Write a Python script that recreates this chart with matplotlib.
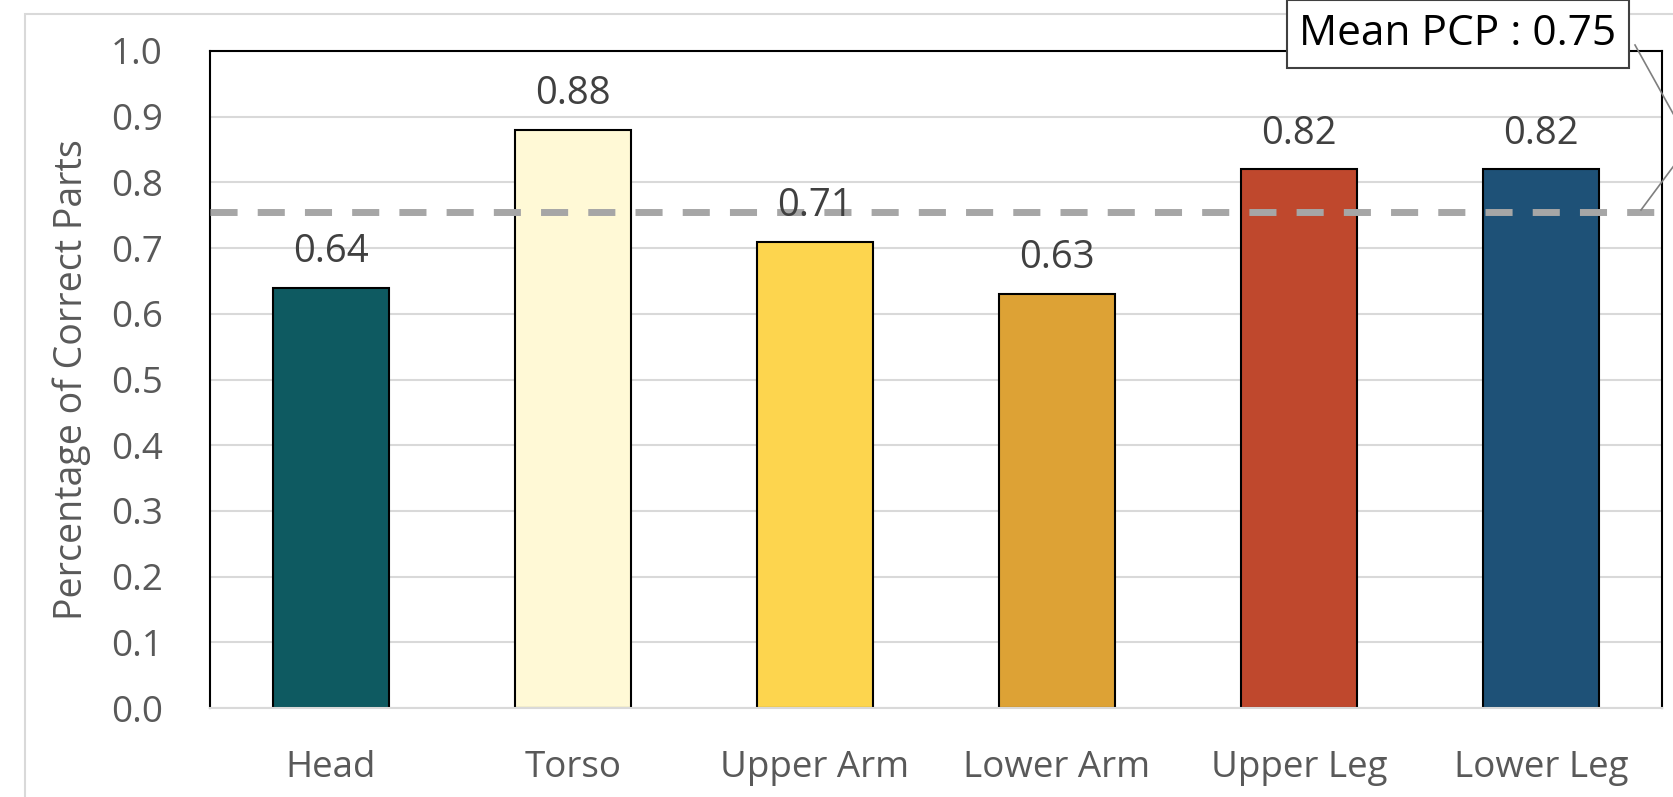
import matplotlib.pyplot as plt
from matplotlib.lines import Line2D
from matplotlib.patches import Rectangle

plt.rcParams["font.family"] = ["Open Sans", "DejaVu Sans"]

# data
parts = ["Head", "Torso", "Upper Arm", "Lower Arm", "Upper Leg", "Lower Leg"]
pcp = [0.64, 0.88, 0.71, 0.63, 0.82, 0.82]
bar_colors = ["#0E5A61", "#FFF9D6", "#FDD54E", "#DDA235", "#BF482D", "#1E5177"]
mean_pcp = 0.755
mean_label = "Mean PCP : 0.75"
yticks = [0.0, 0.1, 0.2, 0.3, 0.4, 0.5, 0.6, 0.7, 0.8, 0.9, 1.0]

W, H = 1674, 797
fig = plt.figure(figsize=(W / 100, H / 100), dpi=100)
ax = fig.add_axes([210 / W, 1 - 708 / H, (1662 - 210) / W, (708 - 51) / H])

# light outer frame of the chart area
fig.patches.append(Rectangle((25 / W, -0.2), 2, 1.2 - 14 / H, transform=fig.transFigure,
                             fill=False, edgecolor="#D9D9D9", lw=1.5))

x = range(len(parts))
ax.bar(x, pcp, width=0.48, color=bar_colors, edgecolor="black", linewidth=1.5, zorder=2)

# mean line
ax.plot([-0.5, 5.5], [mean_pcp, mean_pcp], color="#A6A6A6", lw=5,
        dashes=(3.9, 2.9), zorder=3)

for i, v in enumerate(pcp):
    ax.annotate(f"{v:.2f}", (i, v), xytext=(0, 12), textcoords="offset points",
                ha="center", va="bottom", fontsize=27.5, color="#404040", zorder=4)

ax.set_xlim(-0.5, 5.5)
ax.set_ylim(0, 1.0)
ax.set_yticks(yticks)
ax.set_yticklabels([f"{t:.1f}" for t in yticks])
ax.set_xticks(list(x))
ax.set_xticklabels(parts)
ax.tick_params(axis="both", length=0, labelsize=26.5, colors="#595959")
ax.tick_params(axis="y", pad=34)
ax.tick_params(axis="x", pad=30)
ax.set_ylabel("Percentage of Correct Parts", fontsize=27, color="#595959", labelpad=14)

ax.yaxis.grid(True, color="#D9D9D9", lw=1.5, zorder=0)
ax.set_axisbelow(True)
for s in ["left", "top", "right"]:
    ax.spines[s].set_color("black")
    ax.spines[s].set_linewidth(1.5)
ax.spines["bottom"].set_color("#D9D9D9")
ax.spines["bottom"].set_linewidth(1.5)

# callout for the mean
fig.text(1458 / W, 1 - 34 / H, mean_label, ha="center", va="center", fontsize=30.5,
         color="black",
         bbox=dict(boxstyle="square,pad=0.3", facecolor="white", edgecolor="#404040", lw=1.5))
fig.lines.append(Line2D([1635 / W, 1690 / W, 1641 / W],
                        [1 - 45 / H, 1 - 144 / H, 1 - 210 / H],
                        transform=fig.transFigure, color="#7F7F7F", lw=1.2))

fig.savefig("out.png", dpi=100)
